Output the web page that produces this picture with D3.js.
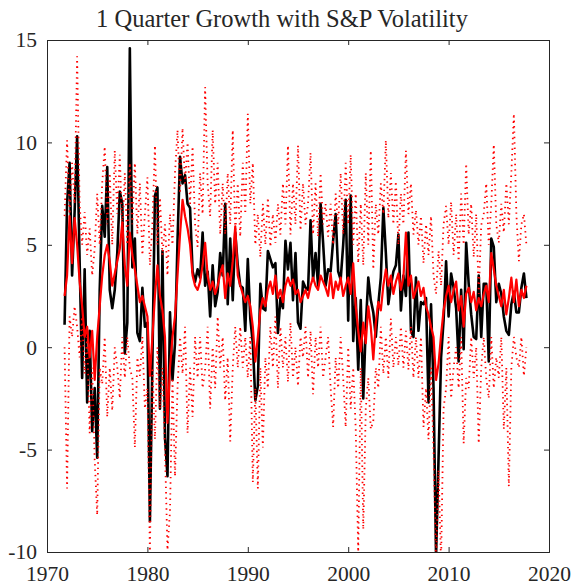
<!DOCTYPE html>
<html>
<head>
<meta charset="utf-8">
<script src="https://cdn.jsdelivr.net/npm/d3@7"></script>
<style>
  html, body { margin: 0; padding: 0; background: #fff; }
  svg { display: block; }
  text { font-family: "Liberation Serif", "Times New Roman", serif; fill: #262626; }
</style>
</head>
<body>
<svg id="chart" width="574" height="588"></svg>
<script>
// Quarterly observations, first quarter 1971Q4, last 2017Q4
const startYear = 1971.75;
const actual = [
  1.1,
  7.0, 9.0, 3.5, 6.6,
  10.3, 4.2, -1.5, 3.8,
  -2.7, 0.8, -4.1, -2.0,
  -5.4, 2.8, 6.9, 5.4,
  8.8, 2.8, 1.9, 2.8,
  4.6, 7.6, 7.0, -0.3,
  1.2, 14.6, 3.9, 5.3,
  0.7, 0.3, 2.9, 1.0,
  1.2, -8.5, -0.6, 7.4,
  7.8, -3.0, 4.7, -4.4,
  -6.3, 1.7, -1.6, 0.2,
  5.2, 9.3, 8.0, 8.4,
  7.0, 6.8, 3.7, 3.2,
  3.8, 3.4, 5.6, 3.0,
  3.7, 1.5, 4.0, 2.0,
  2.7, 4.6, 3.5, 7.0,
  2.1, 5.3, 2.3, 5.6,
  4.0, 3.0, 2.9, 0.8,
  4.3, 1.4, 0.2, -2.6,
  -1.9, 3.1, 1.9, 1.8,
  4.7, 4.3, 3.9, 4.1,
  0.7, 2.4, 1.9, 5.2,
  3.8, 5.1, 2.3, 4.6,
  1.2, 0.9, 3.2, 2.9,
  2.8, 6.2, 3.3, 4.6,
  3.0, 7.0, 5.1, 3.0,
  3.8, 3.7, 5.2, 6.5,
  3.7, 3.3, 5.0, 7.2,
  1.3, 7.4, 0.3, 2.4,
  -1.1, 2.3, -2.5, 1.0,
  3.4, 2.3, 1.7, 0.5,
  2.1, 3.4, 6.8, 4.6,
  2.1, 3.0, 3.7, 4.0,
  5.5, 1.8, 3.5, 2.5,
  5.6, 0.8, 0.5, 3.4,
  0.8, 2.2, 2.1, 2.4,
  -2.7, 2.1, -2.0, -10.2,
  -5.4, -0.5, 1.3, 4.2,
  1.5, 3.6, 2.9, 1.9,
  -0.7, 2.8, -0.1, 5.1,
  3.1, 1.6, 0.5, 0.4,
  3.5, 0.5, 3.1, 3.1,
  -0.7, 5.3, 4.9, 2.2,
  3.1, 2.6, 1.5, 0.8,
  0.6, 2.1, 2.7, 1.7,
  1.7, 2.9, 3.6, 2.4
];
const forecast = [
  2.5,
  3.5, 6.4, 4.1, 6.3,
  5.0, 3.2, 2.0, 0.5,
  1.0, -0.5, 0.8, -1.6,
  0.5, 2.0, 3.5, 4.5,
  5.0, 4.2, 3.0, 3.6,
  4.2, 4.8, 6.1, 4.0,
  3.0, 5.6, 4.5, 3.8,
  3.0, 2.2, 2.5, 2.0,
  1.5, -1.4, 0.5, 2.5,
  4.0, 2.5, 1.8, 0.5,
  -3.7, -1.0, 0.5, 1.5,
  3.5, 5.5, 7.2, 6.4,
  5.8, 5.0, 3.5, 3.0,
  2.8, 3.2, 4.0, 5.1,
  3.5, 2.8, 3.2, 2.6,
  3.0, 3.6, 4.0, 2.4,
  3.6, 3.0, 4.2, 5.9,
  3.5, 3.0, 2.6, 2.2,
  2.5, 2.0, 1.0, -0.7,
  0.5, 1.8, 2.4, 2.0,
  2.8, 3.2, 2.6, 3.5,
  2.4, 2.8, 2.2, 3.0,
  3.4, 3.0, 3.3, 2.6,
  2.8, 2.2, 2.5, 2.8,
  2.4, 3.0, 3.4, 3.0,
  2.8, 3.5, 3.2, 2.9,
  2.5, 3.6, 2.4, 3.2,
  2.8, 3.4, 2.5, 3.0,
  3.4, 2.6, 4.1, 2.0,
  0.8, -0.2, 1.2, 0.2,
  2.0, 1.0, -0.6, 1.2,
  2.2, 1.8, 3.0, 3.8,
  3.0, 3.5, 2.6, 3.2,
  3.6, 2.8, 3.4, 5.6,
  3.0, 3.5, 2.4, 2.8,
  3.2, 2.5, 2.9, 2.0,
  1.6, 1.0, 0.5, -1.6,
  -0.8, 0.6, 1.8, 2.5,
  3.0, 2.2, 2.8, 3.2,
  1.8, 2.5, 1.0, 2.6,
  2.9, 2.2, 2.7, 1.8,
  2.4, 2.0, 2.6, 3.0,
  2.2, 4.6, 3.8, 3.0,
  2.5, 2.0, 2.8, 1.6,
  2.4, 3.4, 2.2, 3.3,
  2.0, 2.8, 2.4, 3.0
];
const upperBand = [
  6.4,
  10.1, 6.5, 9.0, 7.0,
  14.2, 7.0, 5.0, 6.6,
  4.5, 5.8, 3.5, 4.8,
  7.5, 5.0, 8.0, 9.8,
  6.0, 8.5, 5.0, 9.6,
  6.5, 9.4, 5.5, 8.5,
  5.0, 9.0, 6.0, 9.0,
  5.5, 8.0, 4.5, 6.5,
  8.3, 4.0, 6.0, 9.85,
  5.0, 7.3, 4.5, 6.0,
  3.5, 6.5, 5.0, 8.5,
  10.6, 7.5, 10.7, 8.0,
  10.0, 7.0, 9.8, 6.0,
  4.9, 8.5, 6.5, 12.7,
  8.0, 6.4, 10.6, 7.0,
  9.0, 5.5, 8.0, 5.5,
  8.5, 6.0, 10.6, 5.5,
  8.0, 5.4, 9.0, 6.5,
  11.4, 7.0, 9.0, 5.0,
  6.5, 4.4, 7.0, 5.0,
  7.3, 4.9, 6.5, 5.1,
  7.0, 5.5, 8.0, 6.0,
  9.85, 5.5, 8.0, 6.0,
  9.85, 5.7, 8.0, 6.0,
  7.0, 9.5, 5.5, 8.0,
  5.4, 8.5, 6.0, 7.0,
  5.4, 7.0, 5.0, 7.5,
  6.0, 8.5, 5.5, 9.0,
  6.0, 9.4, 5.0, 7.5,
  4.1, 7.0, 4.0, 8.5,
  5.0, 9.6, 3.8, 7.0,
  5.5, 8.0, 6.5, 10.1,
  6.3, 8.5, 6.0, 8.1,
  5.0, 7.5, 6.0, 9.6,
  6.5, 8.0, 5.5, 6.7,
  5.0, 6.4, 4.1, 6.0,
  4.5, 6.4, 3.5, 2.6,
  4.7, 3.0, 6.0, 6.9,
  5.0, 7.1, 4.5, 6.5,
  4.2, 7.5, 5.0, 8.96,
  5.5, 7.0, 4.4, 6.5,
  2.6, 5.95, 6.5, 8.0,
  5.0, 7.0, 9.9, 6.0,
  5.1, 7.0, 5.6, 8.0,
  6.0, 8.5, 11.4, 6.5,
  4.2, 6.0, 6.5, 5.0
];
const lowerBand = [
  0.0,
  -6.9, 1.5, 0.5, 2.0,
  1.0, -0.5, 1.5, -1.3,
  0.5, -4.2, -1.0, -5.5,
  -8.2, -1.0, -1.8, 0.5,
  -3.4, -1.0, -3.1, 0.0,
  -1.0, -2.5, 0.5, -1.5,
  0.5, -1.0, -1.5, -4.9,
  -0.5, -1.4, 0.5, -3.0,
  -2.0, -10.1, -1.0, -4.5,
  0.0, -3.0, -1.0, -5.0,
  -9.9, -8.0, -1.5, -6.3,
  -2.0, 0.5, -1.3, 1.0,
  -4.2, -1.0, -3.4, 0.5,
  -1.5, 0.5, -2.0, -1.1,
  1.0, -3.0, 0.0, -2.0,
  1.5, -1.0, 0.5, -2.6,
  -0.5, -4.6, -1.0, 1.0,
  -1.0, 1.0, -1.0, 0.5,
  -1.5, 0.5, -6.6, -2.0,
  -6.9, -1.0, -4.9, -0.5,
  -2.0, 1.0, -1.0, 1.5,
  -2.0, 1.0, -1.0, 0.5,
  -1.7, 1.2, -1.5, 0.0,
  -1.9, 0.5, -0.5, 1.0,
  -1.5, 0.8, -2.3, 0.5,
  -1.0, 1.0, -1.5, -0.5,
  0.5, -2.0, -3.9, -0.5,
  -2.0, 0.5, -1.5, -3.9,
  0.0, -3.0, -1.0, -4.0,
  -10.0, -1.0, -8.9, -3.0,
  -1.5, -4.0, -3.6, -1.0,
  -2.0, 1.0, -1.3, 0.5,
  -1.5, 1.4, -1.0, 0.5,
  -0.9, 1.0, -1.0, 0.8,
  -1.1, 1.0, -1.5, 0.5,
  -1.5, 0.5, -3.9, -2.0,
  -4.5, -1.0, -5.0, -10.5,
  -6.0, -10.5, -3.0, -2.0,
  0.5, -2.5, -1.0, 0.0,
  -2.0, 0.5, -4.7, -1.5,
  -2.0, 0.5, -1.5, 0.0,
  -4.7, -1.0, 0.5, -1.5,
  -2.5, 0.5, -2.0, -0.5,
  -1.5, 0.5, -4.0, -1.0,
  -6.8, -1.0, 0.5, -0.5,
  -1.0, 0.5, -1.4, 0.0
];
const xTicks = [1970, 1980, 1990, 2000, 2010, 2020];
const yTicks = [-10, -5, 0, 5, 10, 15];
const title = "1 Quarter Growth with S&P Volatility";

const svg = d3.select("#chart");
const m = {left: 47, right: 549, top: 40, bottom: 552};
const x = d3.scaleLinear().domain([1970, 2020]).range([m.left, m.right]);
const y = d3.scaleLinear().domain([-10, 15]).range([m.bottom, m.top]);
const axisColor = "#262626";

svg.append("defs").append("clipPath").attr("id", "clip")
  .append("rect").attr("x", m.left).attr("y", m.top)
  .attr("width", m.right - m.left).attr("height", m.bottom - m.top);

const date = i => startYear + i * 0.25;
const line = d3.line().x((d, i) => x(date(i))).y(d => y(d));

const plot = svg.append("g").attr("clip-path", "url(#clip)");
plot.append("path").datum(actual).attr("d", line)
  .attr("fill", "none").attr("stroke", "#000").attr("stroke-width", 2.6)
  .attr("stroke-linejoin", "round");
plot.append("path").datum(forecast).attr("d", line)
  .attr("fill", "none").attr("stroke", "#ff0000").attr("stroke-width", 2.2)
  .attr("stroke-linejoin", "round");
[upperBand, lowerBand].forEach(s => {
  plot.append("path").datum(s).attr("d", line)
    .attr("fill", "none").attr("stroke", "#ff0000").attr("stroke-width", 1.8)
    .attr("stroke-dasharray", "1.4,4");
});

// axes (box with inward ticks)
const axB = d3.axisBottom(x).tickValues(xTicks).tickSize(-5).tickPadding(14).tickFormat(d3.format("d"));
const axT = d3.axisTop(x).tickValues(xTicks).tickSize(-5).tickFormat("");
const axL = d3.axisLeft(y).tickValues(yTicks).tickSize(-5).tickPadding(10).tickFormat(d => String(d));
const axR = d3.axisRight(y).tickValues(yTicks).tickSize(-5).tickFormat("");

function style(g) {
  g.selectAll("path").attr("stroke", axisColor).attr("stroke-width", 1);
  g.selectAll("line").attr("stroke", axisColor).attr("stroke-width", 1);
  g.selectAll("text").attr("font-family", "Liberation Serif, Times New Roman, serif")
    .attr("font-size", 21.5).attr("fill", axisColor);
}
svg.append("g").attr("transform", `translate(0,${m.bottom})`).call(axB).call(style);
svg.append("g").attr("transform", `translate(0,${m.top})`).call(axT).call(style);
svg.append("g").attr("transform", `translate(${m.left},0)`).call(axL).call(style);
svg.append("g").attr("transform", `translate(${m.right},0)`).call(axR).call(style);

svg.append("text").attr("x", 282).attr("y", 27)
  .attr("text-anchor", "middle").attr("font-size", 24.5).attr("fill", "#000")
  .text(title);
</script>
</body>
</html>
